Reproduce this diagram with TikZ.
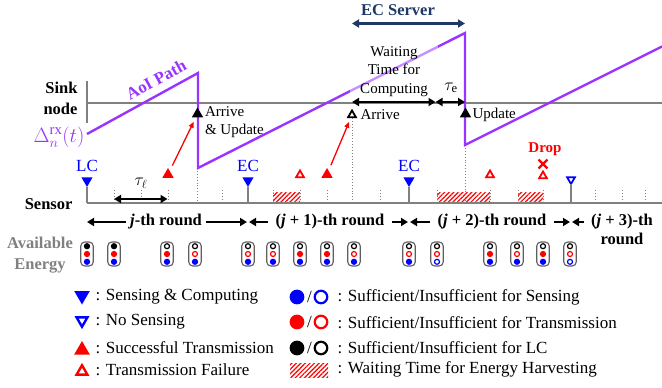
\documentclass[tikz,border=0pt]{standalone}
\usepackage{fontspec}
\setmainfont{Liberation Serif}
\usepackage{amsmath}
\usetikzlibrary{arrows.meta,patterns.meta,shapes.geometric,shapes.misc}

\definecolor{aoi}{RGB}{153,51,255}
\definecolor{axisgray}{RGB}{128,128,128}
\definecolor{ecnavy}{RGB}{31,56,100}
\definecolor{battgray}{RGB}{95,95,95}

\tikzset{
  fbig/.style={font=\fontsize{17}{20}\selectfont},
  fmid/.style={font=\fontsize{15}{18.5}\selectfont},
  fmath/.style={font=\fontsize{18}{20}\selectfont},
  fhead/.style={font=\fontsize{16.5}{21}\selectfont\bfseries},
  axisline/.style={draw=axisgray, line width=2.4pt},
  stemline/.style={draw=axisgray, line width=2.2pt},
  tickline/.style={draw=axisgray, line width=0.9pt, dotted},
  aoiline/.style={draw=aoi, line width=2.4pt, line join=miter},
  hatchbox/.style={pattern={Lines[angle=45,distance=3.2pt,line width=1.2pt]}, pattern color=red, draw=none},
  tri/.style={regular polygon, regular polygon sides=3, inner sep=0pt, outer sep=0pt, minimum size=13pt},
  tridn/.style={tri, shape border rotate=180},
  opentri/.style={minimum size=9pt, line width=1.8pt, fill=white},
  legtri/.style={minimum size=18pt},
  legopen/.style={minimum size=12.5pt, line width=2.4pt, fill=white},
  legdot/.style={circle, inner sep=0pt, minimum size=12.5pt, line width=2.2pt},
  tips/.style={line width=2.2pt},
  dblarrow/.style={tips, {Triangle[length=7pt,width=8pt]}-{Triangle[length=7pt,width=8pt]}},
  rarrow/.style={tips, -{Triangle[length=7pt,width=8pt]}},
  txarrow/.style={draw=red, line width=1.3pt, -{Triangle[length=6pt,width=5pt]}},
  battbox/.style={draw=battgray, line width=1.1pt, rounded corners=4pt, minimum width=12.5pt, minimum height=24pt, inner sep=0pt, fill=white},
  battdot/.style={circle, inner sep=0pt, minimum size=5pt, line width=1.2pt},
  pics/battery/.style n args={3}{code={
    \node[battbox] (-box) at (0,0) {};
    \node[battdot, draw=black, fill=#1] (-lc) at (0,-7.8) {};
    \node[battdot, draw=red, fill=#2] (-tx) at (0,0) {};
    \node[battdot, draw=blue, fill=#3] (-sn) at (0,7.8) {};
  }},
}

\begin{document}
\begin{tikzpicture}[x=1pt,y=-1pt]
\useasboundingbox (0,0) rectangle (662,388);

% ---------- row labels ----------
\node[fhead, align=right, anchor=east] (sinklbl) at (81,98) {Sink\\node};
\node[fhead, anchor=east] (sensorlbl) at (76,204) {Sensor};
\node[fhead, text=axisgray, align=center] (energylbl) at (40,255) {Available\\Energy};
\node[text=aoi, font=\fontsize{21}{24}\selectfont, inner sep=1pt] (deltalbl) at (59,137) {$\Delta_n^{\mathrm{rx}}(t)$};

% ---------- energy-harvesting waits on the sensor axis ----------
\path[hatchbox] (273,192.5) rectangle (300,203);
\path[hatchbox] (437,192.5) rectangle (490,203);
\path[hatchbox] (518,192.5) rectangle (543,203);

% ---------- time ticks ----------
\foreach \x in {114,141,168,222,273,300,327,380,437,490,518,543,595,622,645}
  \draw[tickline] (\x,190) -- (\x,203);
\draw[tickline] (197,168) -- (197,203);
\draw[tickline] (352,118) -- (352,203);
\draw[tickline] (465,145) -- (465,203);

% ---------- axes ----------
\coordinate (skt) at (87,81);  \coordinate (skb) at (87,123);
\coordinate (sk0) at (87,103); \coordinate (sk1) at (662,103);
\coordinate (sn0) at (87,203); \coordinate (sn1) at (662,203);
\draw[axisline] (skt) -- (skb);
\draw[axisline] (sk0) -- (sk1);
\draw[axisline] (sn0) -- (sn1);

% ---------- AoI sawtooth ----------
\coordinate (a0) at (87,134);
\coordinate (a1) at (198,73);
\coordinate (a2) at (198,168);
\coordinate (a3) at (465,33);
\coordinate (a4) at (465,145);
\coordinate (a5) at (662,46.5);
\draw[aoiline] (a0) -- (a1) -- (a2) -- (a3) -- (a4) -- (a5);
\node[text=aoi, font=\fontsize{17}{20}\selectfont\bfseries, rotate=28.8, inner sep=1pt] (aoilbl) at (156,80) {AoI Path};

\node[fmid, align=center, fill=white, fill opacity=0.45, text opacity=1, inner xsep=10pt, inner ysep=1pt] (waitlbl) at (394,71.5) {Waiting\\Time for\\Computing};

% ---------- EC server span ----------
\node[fhead, text=ecnavy] (eclbl) at (398,10) {EC Server};
\coordinate (es0) at (352,23.5); \coordinate (es1) at (465,23.5);
\draw[dblarrow, color=ecnavy] (es0) -- (es1);

% waiting time and computing time at the server
\coordinate (w0) at (352,102); \coordinate (w1) at (435.5,102); \coordinate (w2) at (465,102);
\draw[dblarrow] (w0) -- (w1);
\draw[dblarrow] (w1) -- (w2);
\node[fmath] (taue) at (451,88) {$\tau_{\mathrm{e}}$};

% local computing time
\coordinate (l0) at (114,199); \coordinate (l1) at (167.5,199);
\draw[dblarrow] (l0) -- (l1);
\node[fmath] (taul) at (141,183) {$\tau_\ell$};

% ---------- sink events ----------
\node[tri, fill=black] (ar1) at (197.5,114) {};
\node[fmid, anchor=west, align=left] (ar1lbl) at (201.5,122) {Arrive\\\& Update};
\node[tri, opentri, draw=black] (ar2) at (352,115) {};
\node[fmid, anchor=west] (ar2lbl) at (357,115) {Arrive};
\node[tri, fill=black] (up1) at (465.5,114) {};
\node[fmid, anchor=west] (up1lbl) at (469,115) {Update};

% ---------- sensing events ----------
\node[tridn, fill=blue] (lc) at (87,180.5) {};
\node[fbig, text=blue] (lclbl) at (87,166) {LC};
\draw[stemline] (sn0) -- (lc.corner 1);

\coordinate (ec1s) at (248,203);
\node[tridn, fill=blue] (ec1) at (248,180.5) {};
\node[fbig, text=blue] (ec1lbl) at (248,166) {EC};
\draw[stemline] (ec1s) -- (ec1.corner 1);

\coordinate (ec2s) at (409,203);
\node[tridn, fill=blue] (ec2) at (409,180.5) {};
\node[fbig, text=blue] (ec2lbl) at (409,166) {EC};
\draw[stemline] (ec2s) -- (ec2.corner 1);

\coordinate (nss) at (571,203);
\node[tridn, opentri, draw=blue] (ns) at (571,179.5) {};
\draw[stemline] (nss) -- (ns.corner 1);

% ---------- transmissions ----------
\node[tri, fill=red] (tx1) at (168,174.5) {};
\node[tri, opentri, draw=red] (tx2) at (300,175) {};
\node[tri, fill=red] (tx3) at (327,174.5) {};
\node[tri, opentri, draw=red] (tx4) at (490,175) {};
\node[tri, opentri, draw=red] (tx5) at (543,176) {};
\node[cross out, draw=red, line width=2.3pt, minimum size=6.5pt, inner sep=0pt] (dropx) at (543,164) {};
\node[text=red, font=\fontsize{15}{18}\selectfont\bfseries] (droplbl) at (545,149) {Drop};

\draw[txarrow, shorten <=6pt, shorten >=5pt] (tx1) -- (ar1);
\draw[txarrow, shorten <=6pt, shorten >=5pt] (tx3) -- (ar2);

% ---------- rounds ----------
\coordinate (t0) at (87,222);  \coordinate (t1) at (247,222);
\coordinate (t2) at (249,222); \coordinate (t3) at (408,222);
\coordinate (t4) at (410,222); \coordinate (t5) at (570,222);
\coordinate (t6) at (572,222);
\node[fhead, inner xsep=4pt] (rd1) at (166,222) {\textit{j}-th round};
\node[fhead, inner xsep=7pt] (rd2) at (330,222) {(\textit{j} + 1)-th round};
\node[fhead, inner xsep=7pt] (rd3) at (492,222) {(\textit{j} + 2)-th round};
\node[fhead, inner xsep=7pt] (rd4) at (622,222) {(\textit{j} + 3)-th};
\node[fhead] (rd4b) at (622,238.5) {round};
\draw[rarrow] (rd1.west) -- (t0);
\draw[rarrow] (rd1.east) -- (t1);
\draw[rarrow] (rd2.west) -- (t2);
\draw[rarrow] (rd2.east) -- (t3);
\draw[rarrow] (rd3.west) -- (t4);
\draw[rarrow] (rd3.east) -- (t5);
\draw[rarrow] (rd4.west) -- (t6);

% ---------- available energy ----------
\pic (e1)  at (87,254)  {battery={black}{red}{blue}};
\pic (e2)  at (114,254) {battery={black}{red}{blue}};
\pic (e3)  at (167,254) {battery={white}{red}{blue}};
\pic (e4)  at (195,254) {battery={white}{white}{blue}};
\pic (e5)  at (248,254) {battery={white}{white}{blue}};
\pic (e6)  at (273,254) {battery={white}{white}{blue}};
\pic (e7)  at (300,254) {battery={white}{red}{blue}};
\pic (e8)  at (327,254) {battery={white}{red}{blue}};
\pic (e9)  at (354,254) {battery={white}{white}{blue}};
\pic (e10) at (409,254) {battery={white}{white}{blue}};
\pic (e11) at (437,254) {battery={white}{white}{white}};
\pic (e12) at (490,254) {battery={white}{red}{blue}};
\pic (e13) at (517,254) {battery={white}{white}{blue}};
\pic (e14) at (543,254) {battery={white}{red}{blue}};
\pic (e15) at (570,254) {battery={white}{white}{white}};

% ---------- legend ----------
\node[tridn, legtri, fill=blue] (lg1) at (82,295.5) {};
\node[fbig, anchor=west] (lg1t) at (92,297) {: Sensing \& Computing};
\node[tridn, legopen, draw=blue] (lg2) at (82,320.5) {};
\node[fbig, anchor=west] (lg2t) at (92,322) {: No Sensing};
\node[tri, legtri, fill=red] (lg3) at (82,350) {};
\node[fbig, anchor=west] (lg3t) at (92,348) {: Successful Transmission};
\node[tri, legopen, draw=red] (lg4) at (82,371.5) {};
\node[fbig, anchor=west] (lg4t) at (92,369.5) {: Transmission Failure};

\node[legdot, draw=blue, fill=blue] (lb1) at (297,297) {};
\node[fbig, inner sep=0pt] (lb1s) at (309.5,297) {/};
\node[legdot, draw=blue, fill=white] (lb2) at (321,297) {};
\node[fbig, anchor=west] (lb1t) at (334,297) {: Sufficient/Insufficient for Sensing};

\node[legdot, draw=red, fill=red] (lr1) at (297,322) {};
\node[fbig, inner sep=0pt] (lr1s) at (309.5,322) {/};
\node[legdot, draw=red, fill=white] (lr2) at (321,322) {};
\node[fbig, anchor=west] (lr1t) at (334,322.5) {: Sufficient/Insufficient for Transmission};

\node[legdot, draw=black, fill=black] (lk1) at (297,348) {};
\node[fbig, inner sep=0pt] (lk1s) at (309.5,348) {/};
\node[legdot, draw=black, fill=white] (lk2) at (321,348) {};
\node[fbig, anchor=west] (lk1t) at (334,348) {: Sufficient/Insufficient for LC};

\path[hatchbox] (290,363) rectangle (328,377);
\node[fbig, anchor=west] (lh1t) at (334,369.5) {: Waiting Time for Energy Harvesting};
\end{tikzpicture}
\end{document}
